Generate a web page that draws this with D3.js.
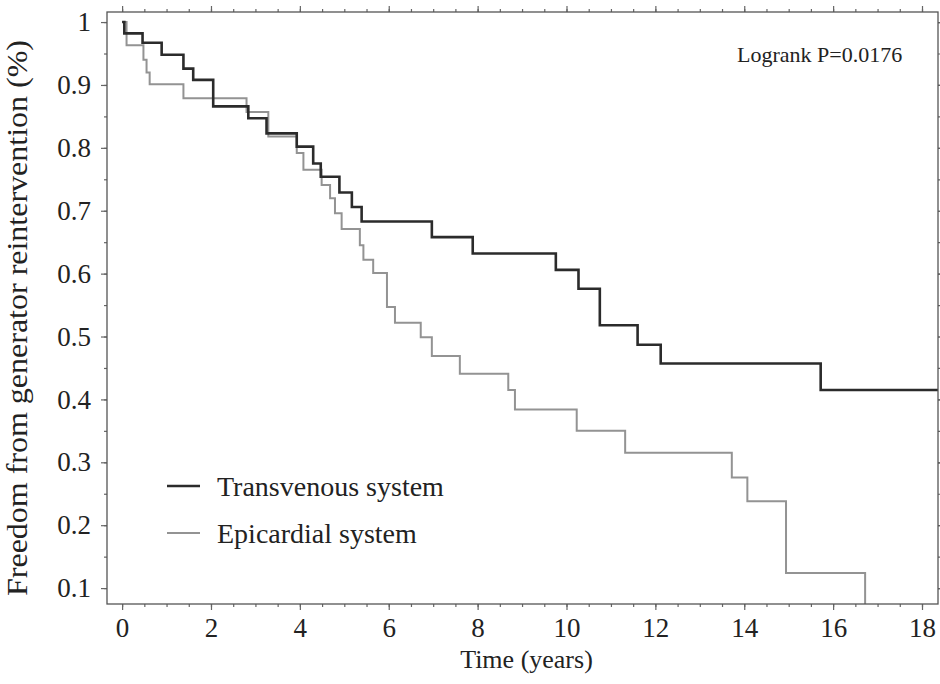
<!DOCTYPE html>
<html lang="en">
<head>
<meta charset="UTF-8">
<title>Freedom from generator reintervention</title>
<script src="https://d3js.org/d3.v7.min.js"></script>
<style>
  body { margin: 0; background: #fff; }
  svg text { font-family: "Liberation Serif", "Times New Roman", serif; fill: #222; }
</style>
</head>
<body>
<div id="chart"></div>
<script>
// Kaplan-Meier steps (time in years, survival fraction)
var tvTimes = [0.05, 0.46, 0.89, 1.38, 1.6, 2.05, 2.84, 3.25, 3.93, 4.3, 4.47, 4.89, 5.17, 5.39, 6.97, 7.89, 9.76, 10.27, 10.75, 11.6, 12.12, 15.72];
var tvSurv  = [0.982, 0.967, 0.948, 0.926, 0.908, 0.866, 0.847, 0.823, 0.802, 0.775, 0.754, 0.729, 0.706, 0.683, 0.658, 0.632, 0.606, 0.576, 0.518, 0.487, 0.457, 0.415];
var tvEnd = 18.36;

var epTimes = [0.1, 0.48, 0.55, 0.62, 1.38, 2.8, 3.29, 3.93, 4.08, 4.49, 4.68, 4.79, 4.94, 5.35, 5.43, 5.65, 5.96, 6.14, 6.72, 6.97, 7.6, 8.69, 8.84, 10.23, 11.32, 13.72, 14.07, 14.94, 16.72];
var epSurv  = [0.963, 0.94, 0.92, 0.901, 0.879, 0.857, 0.818, 0.792, 0.765, 0.741, 0.72, 0.696, 0.671, 0.645, 0.622, 0.601, 0.547, 0.522, 0.499, 0.469, 0.441, 0.415, 0.384, 0.35, 0.315, 0.276, 0.238, 0.124, 0];

var xTicks = [0, 2, 4, 6, 8, 10, 12, 14, 16, 18];
var yTicks = [0.1, 0.2, 0.3, 0.4, 0.5, 0.6, 0.7, 0.8, 0.9, 1];
var seriesNames = ["Transvenous system", "Epicardial system"];

var margin = { top: 12, right: 2, bottom: 80, left: 107 },
    width = 940 - margin.left - margin.right,
    height = 684 - margin.top - margin.bottom;

var svg = d3.select("#chart")
    .append("svg")
    .attr("width", 940)
    .attr("height", 684)
    .append("g")
    .attr("transform", "translate(" + margin.left + "," + margin.top + ")");

var x = d3.scaleLinear().domain([-0.34, 18.36]).range([0, width]);
var y = d3.scaleLinear().domain([0.0747, 1.016]).range([height, 0]);

// minor ticks
var xMinor = d3.range(0, 18.01, 0.5);
var yMinor = d3.range(0.1, 1.001, 0.05);

function styleAxis(g) {
    g.select(".domain").remove();
    g.selectAll("line").attr("stroke", "#666").attr("stroke-width", 1.2);
    g.selectAll("text").attr("font-size", "27px")
        .style("font-family", "'Liberation Serif', serif").attr("fill", "#2a2a2a");
}

// bottom
svg.append("g").attr("transform", "translate(0," + height + ")")
    .call(d3.axisBottom(x).tickValues(xMinor).tickSize(3).tickFormat(""))
    .call(styleAxis);
svg.append("g").attr("transform", "translate(0," + height + ")")
    .call(d3.axisBottom(x).tickValues(xTicks).tickSize(6).tickPadding(8).tickFormat(d3.format("d")))
    .call(styleAxis);
// top (mirrored)
svg.append("g")
    .call(d3.axisTop(x).tickValues(xMinor).tickSize(3).tickFormat(""))
    .call(styleAxis);
svg.append("g")
    .call(d3.axisTop(x).tickValues(xTicks).tickSize(6).tickFormat(""))
    .call(styleAxis);
// left
svg.append("g")
    .call(d3.axisLeft(y).tickValues(yMinor).tickSize(3).tickFormat(""))
    .call(styleAxis);
svg.append("g")
    .call(d3.axisLeft(y).tickValues(yTicks).tickSize(6).tickPadding(10)
        .tickFormat(function (d) { return d === 1 ? "1" : d.toFixed(1); }))
    .call(styleAxis);
// right (mirrored)
svg.append("g").attr("transform", "translate(" + width + ",0)")
    .call(d3.axisRight(y).tickValues(yMinor).tickSize(3).tickFormat(""))
    .call(styleAxis);
svg.append("g").attr("transform", "translate(" + width + ",0)")
    .call(d3.axisRight(y).tickValues(yTicks).tickSize(6).tickFormat(""))
    .call(styleAxis);

// clip for the curves
svg.append("clipPath").attr("id", "plotclip")
    .append("rect").attr("width", width).attr("height", height);

function kmPoints(times, surv, end) {
    var pts = [[0, 1]];
    times.forEach(function (t, i) { pts.push([t, surv[i]]); });
    if (end !== undefined) pts.push([end, surv[surv.length - 1]]);
    return pts;
}

var line = d3.line()
    .x(function (d) { return x(d[0]); })
    .y(function (d) { return y(d[1]); })
    .curve(d3.curveStepAfter);

svg.append("path")
    .datum(kmPoints(epTimes, epSurv))
    .attr("clip-path", "url(#plotclip)")
    .attr("fill", "none")
    .attr("stroke", "#939393")
    .attr("stroke-width", 2)
    .attr("d", line);

svg.append("path")
    .datum(kmPoints(tvTimes, tvSurv, tvEnd))
    .attr("clip-path", "url(#plotclip)")
    .attr("fill", "none")
    .attr("stroke", "#2b2b2b")
    .attr("stroke-width", 2.6)
    .attr("d", line);

// frame
svg.append("rect")
    .attr("width", width).attr("height", height)
    .attr("fill", "none").attr("stroke", "#555").attr("stroke-width", 1.3);

// legend
var legend = svg.append("g").attr("transform", "translate(60,474)");
var legColors = ["#2b2b2b", "#939393"], legWidths = [2.6, 2];
seriesNames.forEach(function (name, i) {
    var g = legend.append("g").attr("transform", "translate(0," + (i * 47) + ")");
    g.append("line").attr("x1", 0).attr("x2", 33).attr("y1", 0).attr("y2", 0)
        .attr("stroke", legColors[i]).attr("stroke-width", legWidths[i]);
    g.append("text").attr("x", 50).attr("y", 10).attr("font-size", "28px").text(name);
});

// annotation
svg.append("text")
    .attr("x", 630).attr("y", 50)
    .attr("font-size", "22px")
    .text("Logrank P=0.0176");

// axis titles
svg.append("text")
    .attr("x", x(9.1)).attr("y", height + 64)
    .attr("text-anchor", "middle")
    .attr("font-size", "26px")
    .text("Time (years)");

svg.append("text")
    .attr("transform", "translate(" + (-80) + "," + (318 - margin.top) + ") rotate(-90)")
    .attr("text-anchor", "middle")
    .attr("font-size", "30px")
    .attr("textLength", 556)
    .attr("lengthAdjust", "spacingAndGlyphs")
    .text("Freedom from generator reintervention (%)");
</script>
</body>
</html>
